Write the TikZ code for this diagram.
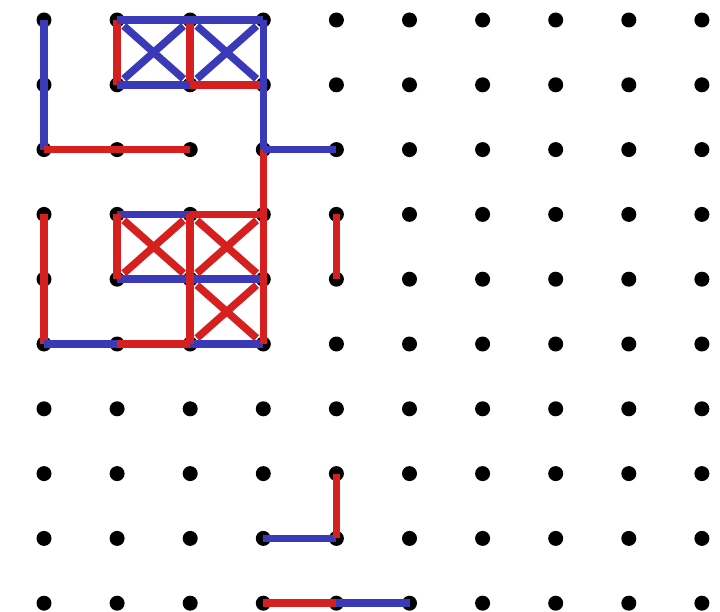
\documentclass[tikz,border=0pt]{standalone}
\definecolor{eblue}{RGB}{58,58,184}
\definecolor{ered}{RGB}{214,32,32}
\tikzset{
  dot/.style={circle,fill=black,inner sep=0pt,minimum size=15pt},
  be/.style={draw=eblue,line width=7.5pt},
  re/.style={draw=ered,line width=7.5pt},
  dg/.style={shorten <=9pt,shorten >=9pt}
}
\begin{document}
\begin{tikzpicture}[x=1pt,y=-1pt]
\useasboundingbox (0,0) rectangle (720,612);
\foreach \i in {0,...,9}{
  \foreach \j in {0,...,9}{
    \node[dot] (d-\i-\j) at ({44+73.1*\i},{20+64.8*\j}) {};
  }
}
% top part
\draw[re] (d-1-0.center) -- (d-1-1.center);
\draw[re] (d-2-0.center) -- (d-2-1.center);
\draw[be] (d-0-0.center) -- (d-0-1.center) -- (d-0-2.center);
\draw[re] (d-0-2.center) -- (d-1-2.center) -- (d-2-2.center);
\draw[be,dg] (d-1-0.center) -- (d-2-1.center);
\draw[be,dg] (d-2-0.center) -- (d-1-1.center);
\draw[be,dg] (d-2-0.center) -- (d-3-1.center);
\draw[be,dg] (d-3-0.center) -- (d-2-1.center);
\draw[be] (d-1-1.center) -- (d-2-1.center);
\draw[re] (d-2-1.center) -- (d-3-1.center);
\draw[be] (d-1-0.center) -- (d-2-0.center) -- (d-3-0.center);
\draw[re] (d-3-2.center) -- (d-3-3.center);
\draw[be] (d-3-0.center) -- (d-3-1.center) -- (d-3-2.center);
\draw[be] (d-3-2.center) -- (d-4-2.center);
% middle part
\draw[re] (d-0-3.center) -- (d-0-4.center) -- (d-0-5.center);
\draw[be] (d-0-5.center) -- (d-1-5.center);
\draw[re] (d-1-5.center) -- (d-2-5.center);
\draw[be] (d-2-5.center) -- (d-3-5.center);
\draw[be] (d-1-3.center) -- (d-2-3.center);
\draw[re] (d-2-3.center) -- (d-3-3.center);
\draw[be] (d-1-4.center) -- (d-2-4.center) -- (d-3-4.center);
\draw[re,dg] (d-1-3.center) -- (d-2-4.center);
\draw[re,dg] (d-2-3.center) -- (d-1-4.center);
\draw[re,dg] (d-2-3.center) -- (d-3-4.center);
\draw[re,dg] (d-3-3.center) -- (d-2-4.center);
\draw[re,dg] (d-2-4.center) -- (d-3-5.center);
\draw[re,dg] (d-3-4.center) -- (d-2-5.center);
\draw[re] (d-1-3.center) -- (d-1-4.center);
\draw[re] (d-2-3.center) -- (d-2-4.center) -- (d-2-5.center);
\draw[re] (d-3-3.center) -- (d-3-4.center) -- (d-3-5.center);
\draw[re] (d-4-3.center) -- (d-4-4.center);
% bottom part
\draw[be] (d-3-8.center) -- (d-4-8.center);
\draw[re] (d-4-7.center) -- (d-4-8.center);
\draw[re] (d-3-9.center) -- (d-4-9.center);
\draw[be] (d-4-9.center) -- (d-5-9.center);
\end{tikzpicture}
\end{document}
